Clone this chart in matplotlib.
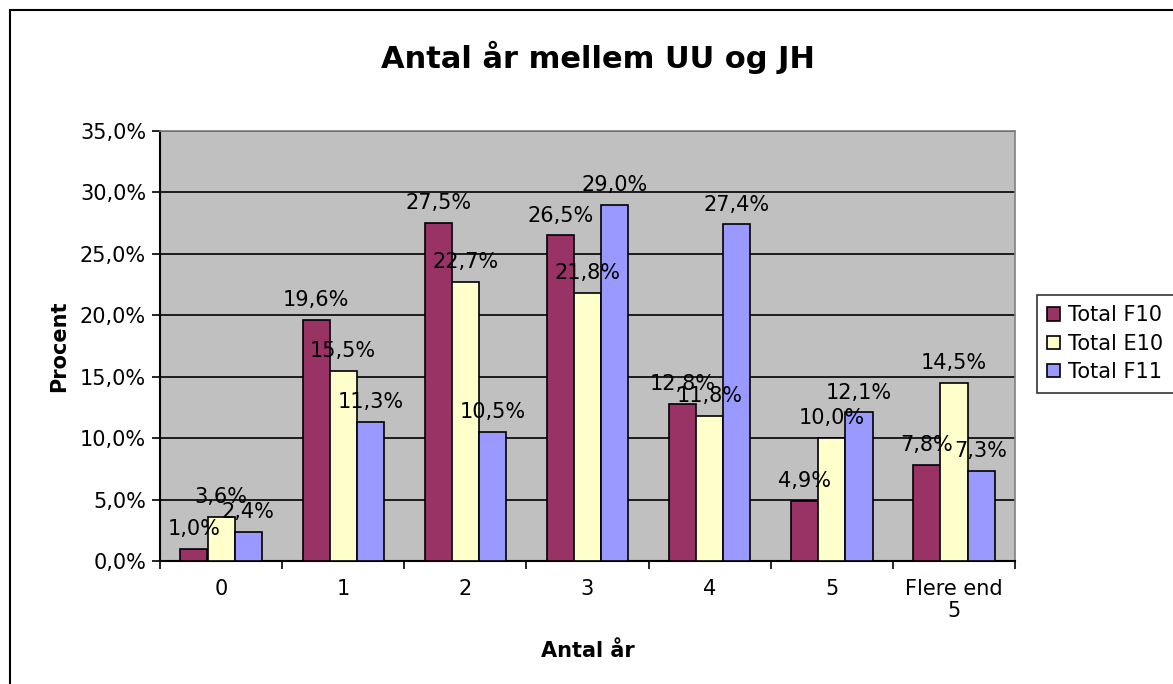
import numpy as np
import matplotlib
matplotlib.use("Agg")
from matplotlib import pyplot as plt
from matplotlib.patches import Rectangle

# Data
categories = ["0", "1", "2", "3", "4", "5", "Flere end\n5"]
total_f10 = [1.0, 19.6, 27.5, 26.5, 12.8, 4.9, 7.8]
total_e10 = [3.6, 15.5, 22.7, 21.8, 11.8, 10.0, 14.5]
total_f11 = [2.4, 11.3, 10.5, 29.0, 27.4, 12.1, 7.3]
series_names = ["Total F10", "Total E10", "Total F11"]
colors = ["#993366", "#FFFFCC", "#9999FF"]

plt.rcParams['font.family'] = ['DejaVu Sans']
FS = 15

fig = plt.figure(figsize=(11.73, 6.84), dpi=100)
fig.patches.append(Rectangle((10 / 1173, -0.01), 1.02, 1 - 10 / 684 + 0.01,
                             transform=fig.transFigure, fill=False,
                             edgecolor="black", linewidth=1.5))
ax = fig.add_axes([160 / 1173, 1 - 561 / 684, (1015 - 160) / 1173, (561 - 131) / 684])
ax.set_facecolor("#C0C0C0")

x = np.arange(len(categories))
w = 1 / 4.5
for i, (vals, name, c) in enumerate(zip([total_f10, total_e10, total_f11], series_names, colors)):
    pos = x + (i - 1) * w
    ax.bar(pos, vals, width=w, color=c, edgecolor="black", linewidth=1.2, label=name, zorder=3)
    for p, v in zip(pos, vals):
        # label sits a bit above the bar top, like Excel
        ax.text(p, v + 0.8, f"{v:.1f}%".replace(".", ","), ha="center", va="bottom",
                fontsize=FS, zorder=4)

ax.set_xlim(-0.5, len(categories) - 0.5)
ax.set_ylim(0, 35)
yt = np.arange(0, 36, 5)
ax.set_yticks(yt)
ax.set_yticklabels([f"{v:.1f}%".replace(".", ",") for v in yt], fontsize=FS)
ax.yaxis.grid(True, color="black", linewidth=1.2, zorder=1)
ax.set_axisbelow(True)

ax.set_xticks(x)
ax.set_xticklabels(categories, fontsize=FS, linespacing=1.15)
ax.set_xticks(np.arange(-0.5, len(categories), 1), minor=True)
ax.tick_params(axis="x", which="major", length=0, pad=13)
ax.tick_params(axis="x", which="minor", length=6, width=1.2, direction="out")
ax.tick_params(axis="y", length=6, width=1.2, direction="out", pad=4)

for s in ["left", "bottom"]:
    ax.spines[s].set_color("black")
    ax.spines[s].set_linewidth(1.5)
for s in ["top", "right"]:
    ax.spines[s].set_color("#808080")
    ax.spines[s].set_linewidth(1.2)

ax.set_xlabel("Antal år", fontsize=FS, fontweight="bold", labelpad=14)
ax.set_ylabel("Procent", fontsize=FS, fontweight="bold", labelpad=8)
fig.text(598 / 1173, 1 - 57 / 684, "Antal år mellem UU og JH", ha="center", va="center",
         fontsize=22, fontweight="bold")

leg = fig.legend(loc="upper left", bbox_to_anchor=(1037 / 1173, 1 - 295 / 684),
                 fontsize=FS, frameon=True, fancybox=False, edgecolor="black",
                 handlelength=0.6, handleheight=0.6, handletextpad=0.4,
                 borderpad=0.5, labelspacing=0.4, borderaxespad=0)
leg.get_frame().set_linewidth(1.2)

fig.savefig("out.png", dpi=100, facecolor="white")
